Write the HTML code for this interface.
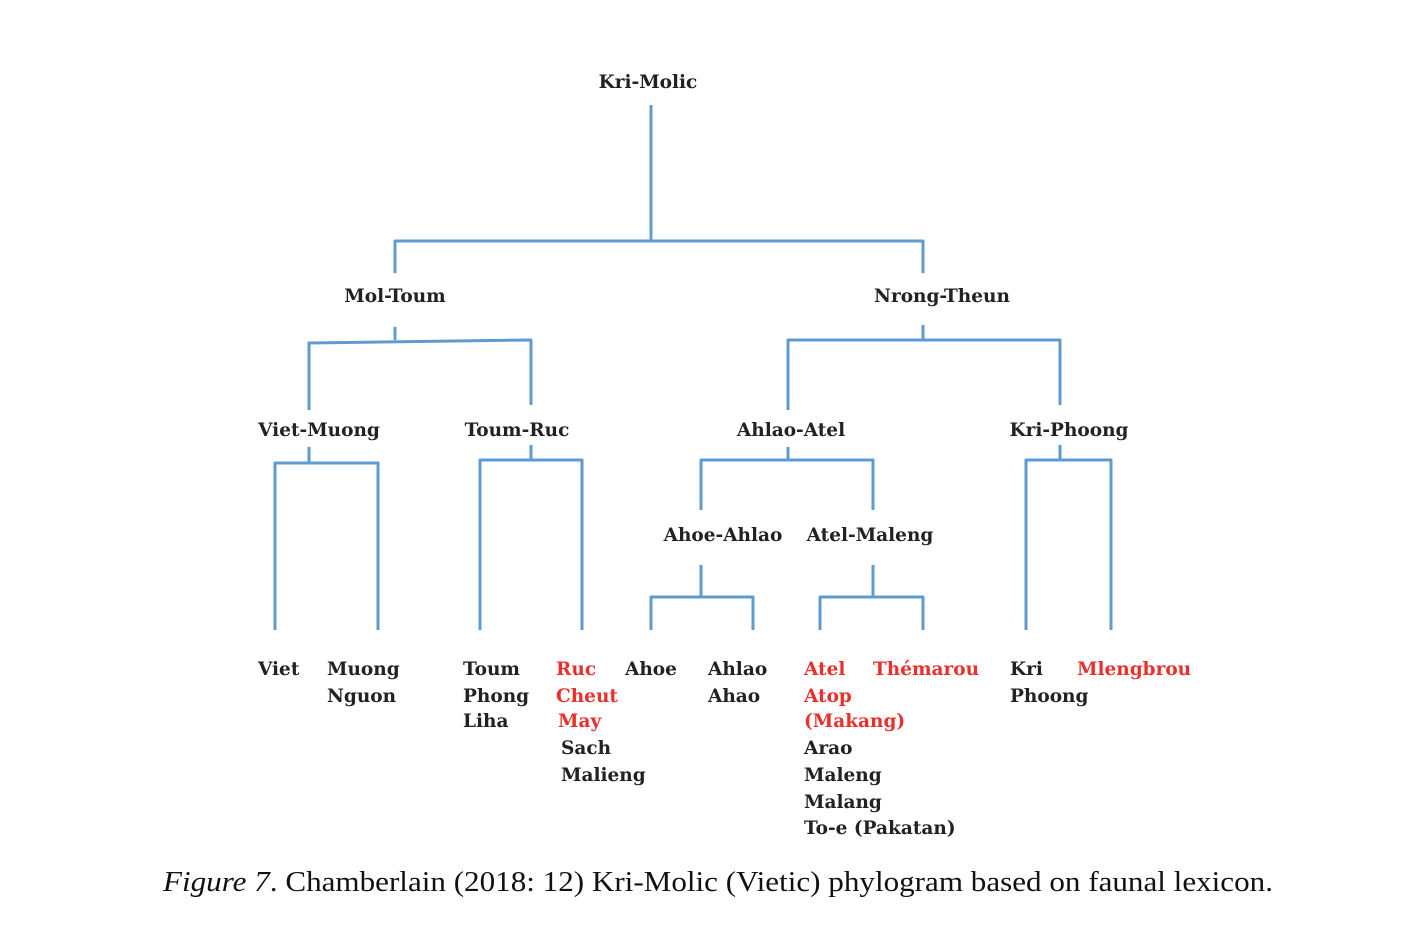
<!DOCTYPE html>
<html><head><meta charset="utf-8"><style>
html,body{margin:0;padding:0;background:#fff;}
svg{display:block}
text{font-family:"DejaVu Serif","Liberation Serif",serif;font-weight:bold;font-size:18.5px;fill:#222;}
.r{fill:#e8302c}
.c{text-anchor:middle}
.cap{font-family:"Liberation Serif",serif;font-weight:normal;font-size:28px;fill:#111}
</style></head><body>
<svg width="1405" height="935" viewBox="0 0 1405 935">
<g fill="none" stroke="#5f9bd3" stroke-width="3" stroke-linejoin="round">
<path d="M651 105V241"/>
<path d="M395 273V241H923V273"/>
<path d="M395 327V340"/>
<path d="M309 410V343L531 340V405"/>
<path d="M923 325V340"/>
<path d="M788 410V340H1060V405"/>
<path d="M309 447V463"/>
<path d="M275 630V463H378V630"/>
<path d="M531 445V460"/>
<path d="M480 630V460H582V630"/>
<path d="M788 447V460"/>
<path d="M701 510V460H873V510"/>
<path d="M701 565V597"/>
<path d="M651 630V597H753V630"/>
<path d="M873 565V597"/>
<path d="M820 630V597H923V630"/>
<path d="M1060 445V460"/>
<path d="M1026 630V460H1111V630"/>
</g>
<text class="c" x="648" y="88">Kri-Molic</text>
<text class="c" x="395" y="302">Mol-Toum</text>
<text class="c" x="942" y="302">Nrong-Theun</text>
<text class="c" x="319" y="436">Viet-Muong</text>
<text class="c" x="517" y="436">Toum-Ruc</text>
<text class="c" x="791" y="436">Ahlao-Atel</text>
<text class="c" x="1069" y="436">Kri-Phoong</text>
<text class="c" x="723" y="541">Ahoe-Ahlao</text>
<text class="c" x="870" y="541">Atel-Maleng</text>

<text x="258" y="675">Viet</text>
<text x="327" y="675">Muong</text>
<text x="327" y="702">Nguon</text>
<text x="463" y="675">Toum</text>
<text x="463" y="702">Phong</text>
<text x="463" y="727">Liha</text>
<text class="r" x="556" y="675">Ruc</text>
<text class="r" x="556" y="702">Cheut</text>
<text class="r" x="558" y="727">May</text>
<text x="561" y="754">Sach</text>
<text x="561" y="781">Malieng</text>
<text x="625" y="675">Ahoe</text>
<text x="708" y="675">Ahlao</text>
<text x="708" y="702">Ahao</text>
<text class="r" x="804" y="675">Atel</text>
<text class="r" x="873" y="675">Thémarou</text>
<text class="r" x="804" y="702">Atop</text>
<text class="r" x="804" y="727">(Makang)</text>
<text x="804" y="754">Arao</text>
<text x="804" y="781">Maleng</text>
<text x="804" y="808">Malang</text>
<text x="804" y="834">To-e (Pakatan)</text>
<text x="1010" y="675">Kri</text>
<text class="r" x="1077" y="675">Mlengbrou</text>
<text x="1010" y="702">Phoong</text>

<text class="cap" x="163" y="891" textLength="1110" lengthAdjust="spacingAndGlyphs"><tspan font-style="italic">Figure 7</tspan>. Chamberlain (2018: 12) Kri-Molic (Vietic) phylogram based on faunal lexicon.</text>
</svg>
</body></html>
